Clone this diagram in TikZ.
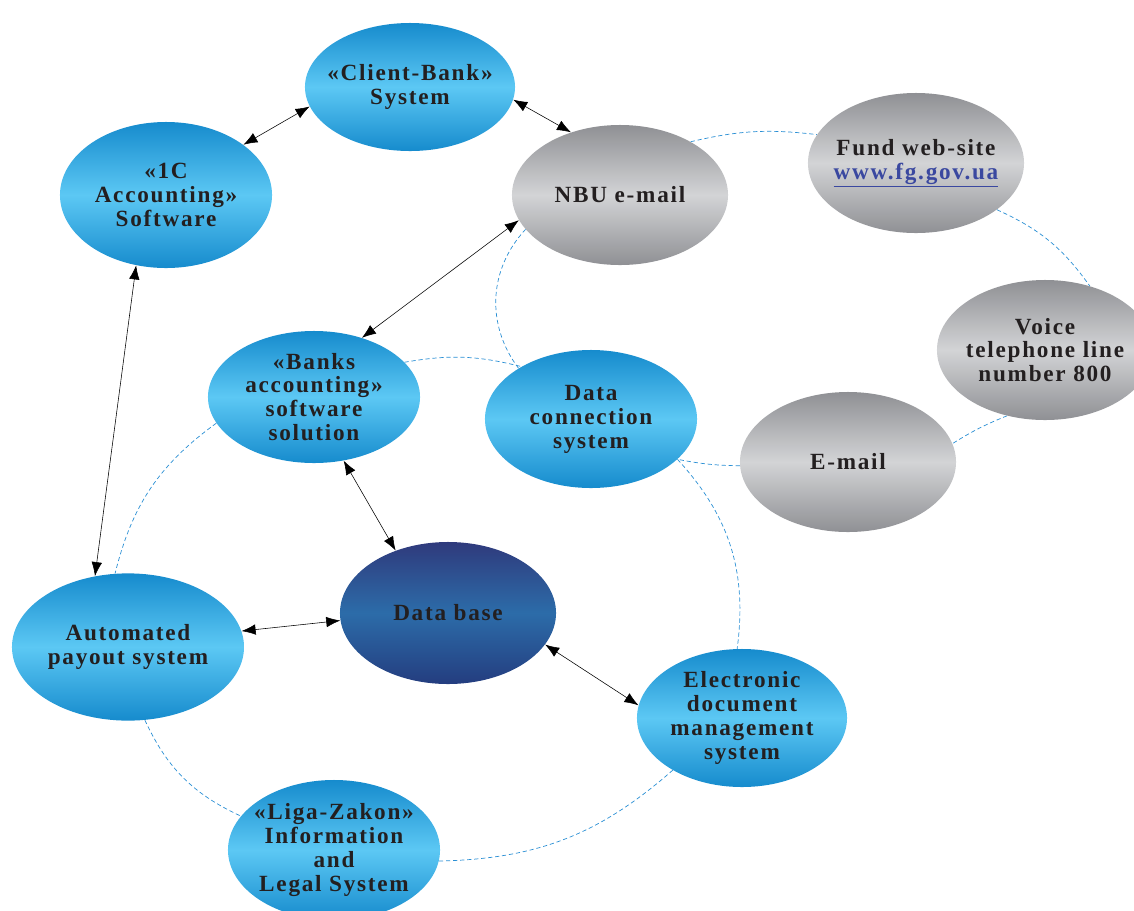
\documentclass[tikz,border=0pt]{standalone}
\usepackage{fontspec}
\setmainfont{Liberation Serif}[LetterSpace=7.5]
\usetikzlibrary{shapes,arrows.meta,positioning}
\definecolor{blueD}{HTML}{168BCD}
\definecolor{blueL}{HTML}{5CC8F4}
\definecolor{greyD}{HTML}{8F9094}
\definecolor{greyL}{HTML}{D3D4D6}
\definecolor{navyT}{HTML}{2F3A7C}
\definecolor{navyM}{HTML}{2C6CA9}
\definecolor{navyB}{HTML}{243D7F}
\definecolor{dashblue}{HTML}{2A8FD4}
\definecolor{txt}{HTML}{231F20}
\definecolor{weblink}{HTML}{3A48A0}
\tikzset{
	{Latex[length=10pt,width=7.5pt]}-{Latex[length=10pt,width=7.5pt]}, line width=0.6pt, txt,
}

\begin{document}
\begin{tikzpicture}[
	x=0.025cm, y=-0.025cm,
	state/.style={ellipse, inner xsep=-16pt, inner ysep=-10pt, align=center, text=txt, font=\bfseries\fontsize{16.5}{17}\selectfont, minimum width=5.3cm, minimum height=3.5cm},
	stateb/.style={state, top color=blueD, bottom color=blueD, middle color=blueL},
	stateg/.style={state, top color=greyD, bottom color=greyD, middle color=greyL},
	staten/.style={state, top color=navyT, bottom color=navyB, middle color=navyM},
	link/.style={-, draw=dashblue, line width=0.5pt, dash pattern=on 3pt off 2pt},
	]
	\useasboundingbox (0,0) rectangle (1134,910);

	%top
	\node[stateb, minimum width=5.25cm, minimum height=3.2cm] (1) at (410,87) {«Client-Bank»\\System};
	\node[stateb, minimum height=3.65cm] (2) at (166,195) {«1C\\Accounting»\\Software};
	%grey ring
	\node[stateg, minimum width=5.4cm] (3) at (620,195) {NBU e-mail};
	\node[stateg, minimum width=5.4cm] (4) at (916,163) {Fund web-site\\\textcolor{weblink}{\underline{www.fg.gov.ua}}};
	\node[stateg, minimum width=5.4cm] (5) at (1045,350) {Voice\\telephone line\\number 800};
	\node[stateg, minimum width=5.4cm] (6) at (848,462) {E-mail};
	%middle
	\node[stateb, minimum height=3.45cm] (7) at (591,419) {Data\\connection\\system};
	\node[stateb, minimum height=3.3cm] (8) at (314,397) {«Banks\\accounting»\\software\\solution};
	\node[staten, minimum width=5.4cm, minimum height=3.55cm] (9) at (448,613) {Data base};
	%bottom
	\node[stateb, minimum width=5.8cm, minimum height=3.68cm] (10) at (128,647) {Automated\\payout system};
	\node[stateb, minimum width=5.25cm, minimum height=3.45cm] (11) at (742,718) {Electronic\\document\\management\\system};
	\node[stateb] (12) at (334,850) {«Liga-Zakon»\\Information\\and\\Legal System};

	%arrows
	\path (2.33) edge[] (1.191);
	\path (1.-7) edge[] (3.128);
	\path (3.194) edge[] (8.51);
	\path (2.247) edge[] (10.115);
	\path (8.295) edge[] (9.130);
	\path (10.8) edge[] (9.184);
	\path (9.-18) edge[] (11.173);

	%dashed links
	\path (3.37) edge[link, bend left=10] (4.164);
	\path (4.-30) edge[link, bend left=15] (5.55);
	\path (5.240) edge[link, bend right=5] (6.10);
	\path (6.182) edge[link, bend left=5] (7.-25);
	\path (7.145) edge[link, bend left=40] (3.200);
	\path (8.21) edge[link, bend left=12] (7.143);
	\path (8.195) edge[link, bend right=20] (10.100);
	\path (7.-25) edge[link, bend left=25] (11.94);
	\path (10.283) edge[link, bend right=20] (12.160);
	\path (12.-6) edge[link, bend right=20] (11.217);

\end{tikzpicture}
\end{document}
